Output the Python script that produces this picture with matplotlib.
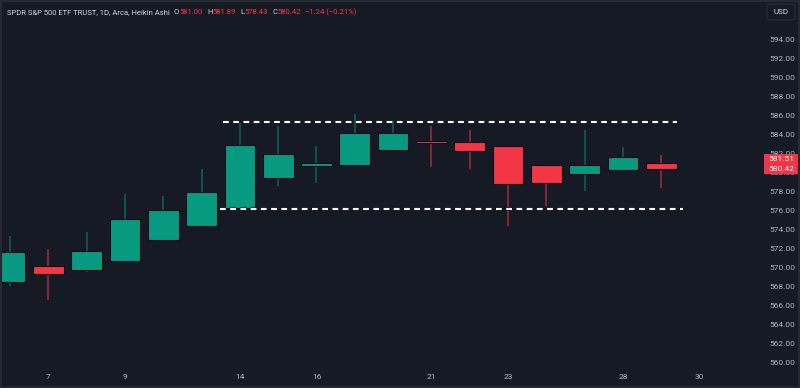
import matplotlib.pyplot as plt
from matplotlib.patches import Rectangle, FancyBboxPatch
import matplotlib.patheffects as pe
import matplotlib.transforms as mtransforms
import numpy as np

plt.rcParams['font.family'] = ['Roboto', 'DejaVu Sans']

# Heikin Ashi candles, SPY daily, October
days = [4, 7, 8, 9, 10, 11, 14, 15, 16, 17, 18, 21, 22, 23, 24, 25, 28, 29]
opens = [568.56, 570.21, 569.76, 570.74, 572.95, 574.42, 576.28, 579.51, 580.77,
         580.84, 582.45, 583.40, 583.30, 582.87, 580.84, 579.89, 580.32, 581.00]
highs = [573.37, 571.97, 573.79, 577.76, 577.58, 580.39, 585.30, 584.95, 582.84,
         586.21, 585.47, 584.95, 584.53, 582.87, 580.84, 584.53, 582.77, 581.89]
lows = [568.14, 566.63, 569.55, 570.74, 572.95, 574.42, 576.28, 578.60, 578.98,
        580.84, 582.45, 580.66, 580.39, 574.45, 576.56, 578.11, 580.32, 578.43]
closes = [571.72, 569.40, 571.79, 575.19, 576.07, 578.04, 582.98, 582.03, 581.05,
          584.18, 584.21, 583.19, 582.35, 578.81, 578.98, 580.84, 581.72, 580.42]

tick_days = [7, 9, 14, 16, 21, 23, 28, 30]
price_ticks = np.arange(560, 596, 2)

# range lines drawn on the chart
range_top = 585.4
range_bottom = 576.24
range_top_x = (5.55, 17.4)
range_bottom_x = (5.47, 17.57)

last_price = 581.51
prev_close = 581.66

BG = '#161a25'
BORDER = '#252934'
GREEN = '#089981'
RED = '#f23645'
GREEN_WICK = '#0b6457'
RED_WICK = '#a82c37'
TEXT = '#b2b5be'
HEAD = '#d1d4dc'

W, H = 800, 388
fig = plt.figure(figsize=(W / 100, H / 100), dpi=100)
fig.patch.set_facecolor(BG)
ax = fig.add_axes([2 / W, (H - 370) / H, (757 - 2) / W, (370 - 2) / H])
ax.set_facecolor(BG)

x = np.arange(len(days))
o = np.array(opens)
c = np.array(closes)
up = c >= o
body_col = np.where(up, GREEN, RED)
wick_col = np.where(up, GREEN_WICK, RED_WICK)

ax.vlines(x, lows, highs, colors=wick_col, linewidth=1.1, zorder=2)
ax.bar(x, np.maximum(np.abs(c - o), 0.12), bottom=np.minimum(o, c), width=0.8,
       color=body_col, edgecolor='#0c0e14', linewidth=0.8, zorder=3)

# dashed range lines
for lvl, (x0, x1) in [(range_top, range_top_x), (range_bottom, range_bottom_x)]:
    ln, = ax.plot([x0, x1], [lvl, lvl], color='white', linewidth=1.6, zorder=4,
                  dashes=(2.6, 2.0), solid_capstyle='butt', dash_capstyle='butt')
    ln.set_path_effects([pe.Stroke(linewidth=2.6, foreground='#05060a'), pe.Normal()])

ax.set_xlim(-0.21, 19.5)
ax.set_ylim(559.26, 598.0)

trade_days = days + [30]
ax.set_xticks([trade_days.index(d) for d in tick_days])
ax.set_xticklabels([str(d) for d in tick_days])
ax.set_yticks(price_ticks)
ax.set_yticklabels([f'{v:.2f}' for v in price_ticks])
ax.yaxis.tick_right()
ax.tick_params(axis='y', length=0, pad=9, labelsize=6.0, labelcolor=TEXT)
ax.tick_params(axis='x', length=0, pad=3, labelsize=6.0, labelcolor=TEXT)
for s in ax.spines.values():
    s.set_visible(False)

# price labels on the scale
trans = mtransforms.blended_transform_factory(ax.transAxes, ax.transData)
box_h = 10 / 9.5
for p in [last_price, closes[-1]]:
    ax.add_patch(Rectangle((1.0 + 7 / 755, p - box_h / 2), 34 / 755, box_h,
                           transform=trans, facecolor=RED, edgecolor='none',
                           clip_on=False, zorder=6))
    ax.text(1.0 + 24 / 755, p, f'{p:.2f}', transform=trans, ha='center', va='center',
            fontsize=6.0, color='white', clip_on=False, zorder=7)

# header, pieces placed one after another
fig.canvas.draw()
renderer = fig.canvas.get_renderer()
chg = closes[-1] - prev_close
pieces = [('SPDR S&P 500 ETF TRUST, 1D, Arca, Heikin Ashi', HEAD, 4)]
for letter, val in [('O', opens[-1]), ('H', highs[-1]), ('L', lows[-1]), ('C', closes[-1])]:
    pieces.append((letter, HEAD, 0.5))
    pieces.append((f'{val:.2f}', RED, 4))
pieces.append((f'{chg:+.2f} ({chg / prev_close * 100:+.2f}%)'.replace('-', '\u2212'), RED, 0))
px = 7
for s, col, gap in pieces:
    t = fig.text(px / W, 1 - 12 / H, s, color=col, fontsize=5.5, va='center')
    px += t.get_window_extent(renderer).width + gap

# currency box
fig.patches.append(FancyBboxPatch((767 / W, 1 - 20 / H), 28 / W, 16 / H,
                                  boxstyle='round,pad=0,rounding_size=0.006',
                                  transform=fig.transFigure, facecolor=BG,
                                  edgecolor='#2a2e39', linewidth=0.8))
fig.text(781 / W, 1 - 12 / H, 'USD', color=HEAD, fontsize=5.8, ha='center', va='center')

# frame
fig.patches.append(Rectangle((0, 0), 1, 1, transform=fig.transFigure, fill=False,
                             edgecolor=BORDER, linewidth=3))

fig.savefig('out.png', dpi=100, facecolor=BG)
